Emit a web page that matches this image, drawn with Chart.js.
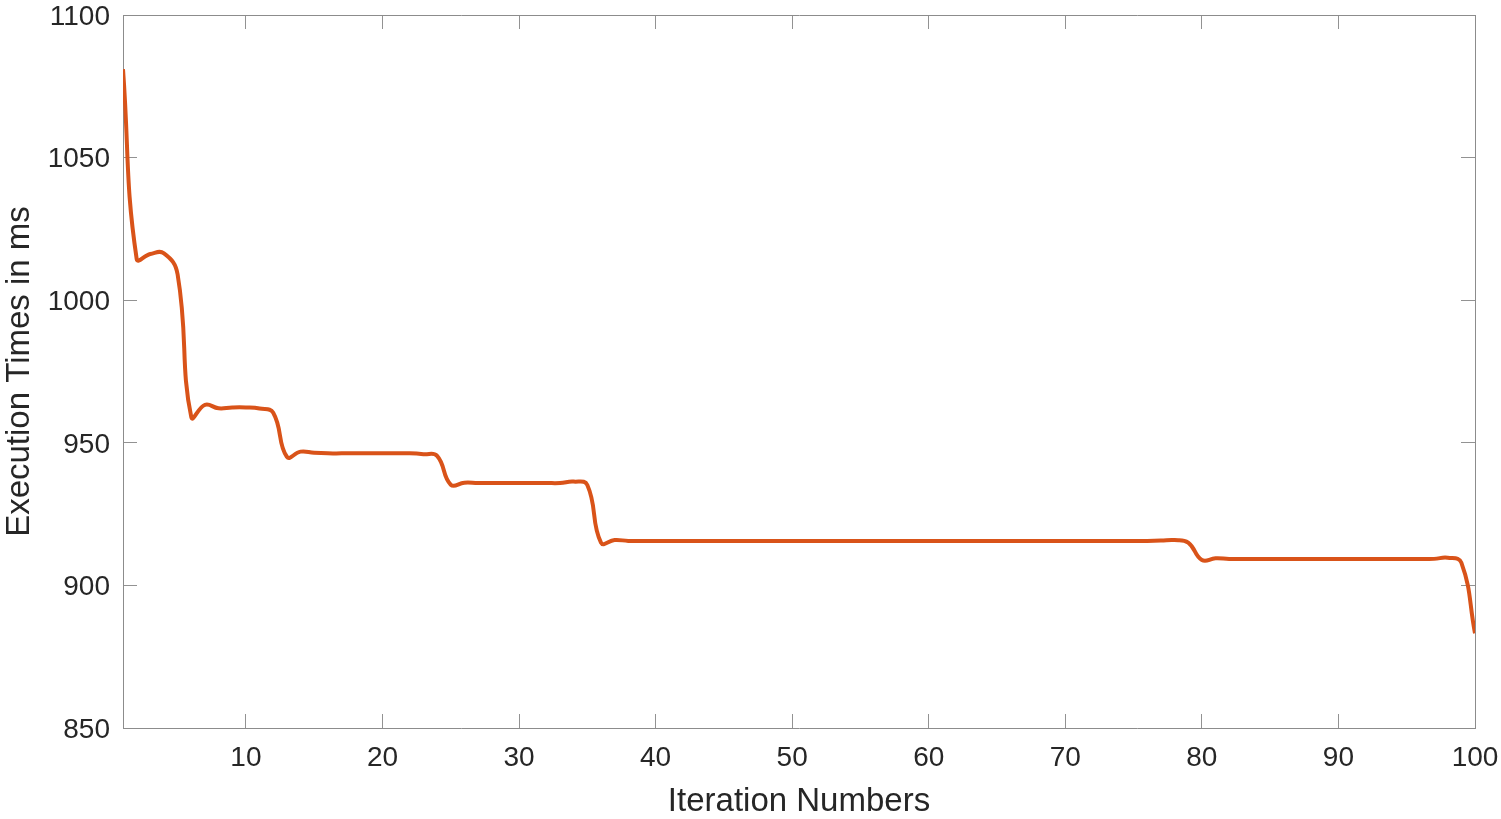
<!DOCTYPE html>
<html lang="en">
<head>
    <meta charset="UTF-8">
    <title>Execution Times</title>
    <style>
        body {
            margin: 0;
            background: #ffffff;
        }
        #chart-box {
            width: 1501px;
            height: 819px;
            position: relative;
        }
    </style>
    <script src="https://cdn.jsdelivr.net/npm/chart.js"></script>
</head>
<body>
    <div id="chart-box">
        <canvas id="timesChart"></canvas>
    </div>

    <script>
        const iterations = [
            1, 2, 3, 4, 5, 6, 7, 8, 9, 10,
            11, 12, 13, 14, 15, 16, 17, 18, 19, 20,
            21, 22, 23, 24, 25, 26, 27, 28, 29, 30,
            31, 32, 33, 34, 35, 36, 37, 38, 39, 40,
            41, 42, 43, 44, 45, 46, 47, 48, 49, 50,
            51, 52, 53, 54, 55, 56, 57, 58, 59, 60,
            61, 62, 63, 64, 65, 66, 67, 68, 69, 70,
            71, 72, 73, 74, 75, 76, 77, 78, 79, 80,
            81, 82, 83, 84, 85, 86, 87, 88, 89, 90,
            91, 92, 93, 94, 95, 96, 97, 98, 99, 100
        ];

        // execution time (ms) at each iteration
        const execTimes = [
            1081, 1014.5, 1016.2, 1016.4, 1009, 959, 963.3, 962.1, 962.4, 962.4,
            962, 960.5, 945.1, 946.9, 946.5, 946.3, 946.3, 946.3, 946.3, 946.3,
            946.3, 946.3, 946.0, 945.4, 935.3, 936.0, 935.9, 935.9, 935.9, 935.9,
            935.9, 935.9, 935.9, 936.4, 935.2, 915.0, 915.9, 915.6, 915.6, 915.6,
            915.6, 915.6, 915.6, 915.6, 915.6, 915.6, 915.6, 915.6, 915.6, 915.6,
            915.6, 915.6, 915.6, 915.6, 915.6, 915.6, 915.6, 915.6, 915.6, 915.6,
            915.6, 915.6, 915.6, 915.6, 915.6, 915.6, 915.6, 915.6, 915.6, 915.6,
            915.6, 915.6, 915.6, 915.6, 915.6, 915.6, 915.7, 915.9, 915.0, 908.9,
            909.5, 909.3, 909.3, 909.3, 909.3, 909.3, 909.3, 909.3, 909.3, 909.3,
            909.3, 909.3, 909.3, 909.3, 909.3, 909.3, 909.3, 909.7, 908.0, 883.2
        ];

        const xTickValues = [10, 20, 30, 40, 50, 60, 70, 80, 90, 100];
        const yTickValues = [850, 900, 950, 1000, 1050, 1100];

        const fontFamily = "'Liberation Sans', Arial, Helvetica, sans-serif";
        const textColor = '#262626';
        const boxColor = '#8c8c8c';
        const tickColor = 'rgba(38, 38, 38, 0.5)';

        const points = iterations.map((it, i) => ({ x: it, y: execTimes[i] }));

        function setTicks(values) {
            return function (scale) {
                scale.ticks = values.map(v => ({ value: v }));
            };
        }

        // fixed box size and no extra label padding, so the plot area stays put
        function fixSize(prop, size) {
            return function (scale) {
                scale[prop] = size;
                scale.paddingLeft = 0;
                scale.paddingRight = 0;
                scale.paddingTop = 0;
                scale.paddingBottom = 0;
            };
        }

        function sideAxis(position, values, fitFn, showLabels, extra) {
            return Object.assign({
                type: 'linear',
                position: position,
                afterBuildTicks: setTicks(values),
                afterFit: fitFn,
                border: { display: true, color: boxColor, width: 1 },
                grid: {
                    drawOnChartArea: false,
                    drawTicks: true,
                    tickLength: -14,
                    color: tickColor,
                    lineWidth: 1
                },
                ticks: {
                    display: showLabels,
                    color: textColor,
                    font: { family: fontFamily, size: 28 },
                    maxRotation: 0,
                    autoSkip: false,
                    callback: v => String(v)
                }
            }, extra);
        }

        const xAxis = sideAxis('bottom', xTickValues, fixSize('height', 91), true, { min: 1, max: 100 });
        xAxis.ticks.padding = 27;
        xAxis.title = {
            display: true,
            text: 'Iteration Numbers',
            color: textColor,
            font: { family: fontFamily, size: 33, lineHeight: 1.02 },
            padding: { top: 0, bottom: 0 }
        };

        const xTop = sideAxis('top', xTickValues, fixSize('height', 15), false, { min: 1, max: 100 });

        const yAxis = sideAxis('left', yTickValues, fixSize('width', 123), true, { min: 850, max: 1100 });
        yAxis.ticks.padding = 27;
        yAxis.ticks.labelOffset = 2;
        yAxis.title = {
            display: true,
            text: 'Execution Times in ms',
            color: textColor,
            font: { family: fontFamily, size: 33 },
            padding: { top: 0, bottom: 0 }
        };

        const yRight = sideAxis('right', yTickValues, fixSize('width', 26), false, { min: 850, max: 1100 });

        const timesChart = new Chart(document.getElementById('timesChart'), {
            type: 'line',
            data: {
                datasets: [{
                    label: 'Execution time',
                    data: points,
                    xAxisID: 'x',
                    yAxisID: 'y',
                    borderColor: '#d95319',
                    borderWidth: 4,
                    pointRadius: 0,
                    fill: false,
                    tension: 0.45
                }]
            },
            options: {
                responsive: true,
                maintainAspectRatio: false,
                animation: false,
                layout: { padding: 0 },
                plugins: {
                    legend: { display: false },
                    tooltip: { enabled: false }
                },
                scales: {
                    x: xAxis,
                    x2: xTop,
                    y: yAxis,
                    y2: yRight
                }
            }
        });
    </script>
</body>
</html>
